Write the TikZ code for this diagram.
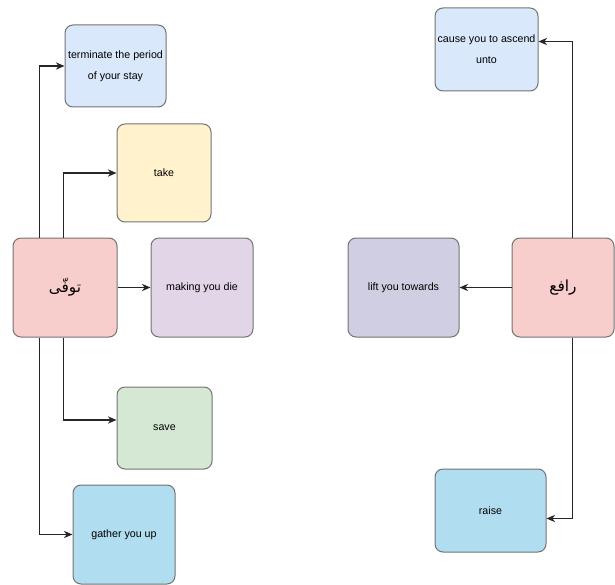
\documentclass[tikz,border=0pt]{standalone}
\usepackage{fontspec}
\setmainfont{Liberation Sans}
\newfontfamily\arabicfont[Script=Arabic]{DejaVu Sans}
\TeXXeTstate=1
\usetikzlibrary{arrows.meta}
\definecolor{paleblue}{HTML}{DAE8FC}
\definecolor{paleyellow}{HTML}{FFF2CC}
\definecolor{palered}{HTML}{F8CECC}
\definecolor{palepurple}{HTML}{E1D5E7}
\definecolor{palegreen}{HTML}{D5E8D4}
\definecolor{skyblue}{HTML}{B1DDF0}
\definecolor{paleslate}{HTML}{D0CEE2}

\begin{document}
\begin{tikzpicture}[x=0.75pt,y=-0.75pt,
  box/.style={draw=black!55, rounded corners=6pt, line width=0.75pt, align=center, inner sep=1pt, font=\fontsize{8}{16}\selectfont},
  root/.style={box, fill=palered, font=\arabicfont\fontsize{11.5}{16}\selectfont},
  link/.style={-{Stealth[length=6.5pt,width=5.5pt]}, line width=0.8pt, draw=black!85}]
\useasboundingbox (0,0) rectangle (615,585);
\node[root, minimum width=78pt, minimum height=74.25pt] (tawaffi) at (65,287.5) {\beginR توفّی\endR};
\node[box, fill=paleblue, minimum width=75.75pt, minimum height=61.5pt] (term) at (115.5,66) {terminate the period\\of your stay};
\node[box, fill=paleyellow, minimum width=70.5pt, minimum height=73.5pt] (take) at (164,173) {take};
\node[box, fill=palepurple, minimum width=76.5pt, minimum height=74.25pt] (die) at (202,287.5) {making you die};
\node[box, fill=palegreen, minimum width=71.25pt, minimum height=61.5pt] (save) at (164.5,428) {save};
\node[box, fill=skyblue, minimum width=76.5pt, minimum height=74.25pt] (gather) at (124,534.5) {gather you up};
\node[root, minimum width=76.5pt, minimum height=74.25pt] (rafi) at (563,287.5) {\beginR رافع\endR};
\node[box, fill=paleblue, minimum width=77.25pt, minimum height=62.25pt] (ascend) at (486.5,49.5) {cause you to ascend\\unto};
\node[box, fill=paleslate, minimum width=83.25pt, minimum height=74.25pt] (lift) at (403.5,287.5) {lift you towards};
\node[box, fill=skyblue, minimum width=83.25pt, minimum height=62.25pt] (raise) at (490.5,510.5) {raise};
\draw[link] ([xshift=-19pt]tawaffi.north) |- (term.west);
\draw[link] ([xshift=-1pt]tawaffi.north) |- (take.west);
\draw[link] (tawaffi) -- (die);
\draw[link] ([xshift=-1pt]tawaffi.south) |- ([yshift=6pt]save.west);
\draw[link] ([xshift=-19pt]tawaffi.south) |- (gather.west);
\draw[link] ([xshift=7pt]rafi.north) |- ([yshift=6pt]ascend.east);
\draw[link] (rafi) -- (lift);
\draw[link] ([xshift=7pt]rafi.south) |- ([yshift=-6pt]raise.east);
\end{tikzpicture}
\end{document}
